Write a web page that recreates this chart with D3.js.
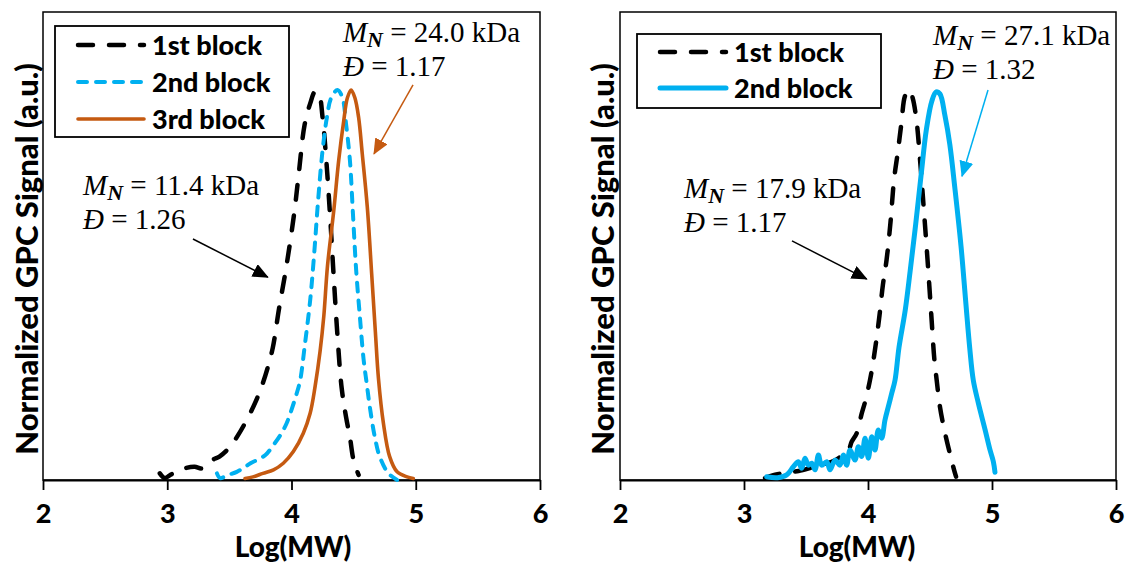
<!DOCTYPE html>
<html>
<head>
<meta charset="utf-8">
<script src="https://cdn.jsdelivr.net/npm/d3@7"></script>
<style>
  html, body { margin: 0; padding: 0; background: #fff; }
  svg { display: block; }
</style>
</head>
<body>
<svg id="chart" width="1127" height="562"></svg>
<script>
// ---- x-axis ticks (log molecular weight) ----
const logMWTicks = [2, 3, 4, 5, 6];

// ---- Panel A: three-block chain extension, [logMW, normalized signal] ----
const aBlock1 = [
  [2.94, 0.017], [2.98, 0.005], [3.03, 0.014], [3.076, 0.021], [3.14, 0.03], [3.22, 0.034],
  [3.28, 0.03], [3.36, 0.051], [3.42, 0.06], [3.505, 0.085], [3.57, 0.115], [3.64, 0.154],
  [3.706, 0.197], [3.76, 0.24], [3.81, 0.29], [3.85, 0.34], [3.90, 0.44], [3.96, 0.55],
  [4.02, 0.68], [4.06, 0.79], [4.105, 0.91], [4.15, 0.965], [4.19, 0.996], [4.22, 0.99],
  [4.25, 0.93], [4.28, 0.82], [4.31, 0.68], [4.34, 0.52], [4.37, 0.37], [4.404, 0.235],
  [4.44, 0.16], [4.47, 0.11], [4.50, 0.05], [4.54, 0.013]
];
const aBlock2 = [
  [3.40, 0.017], [3.425, 0.005], [3.49, 0.013], [3.56, 0.021], [3.61, 0.03], [3.67, 0.043],
  [3.72, 0.051], [3.79, 0.064], [3.855, 0.09], [3.91, 0.115], [3.96, 0.145], [4.0, 0.18],
  [4.04, 0.22], [4.07, 0.256], [4.105, 0.34], [4.15, 0.46], [4.18, 0.57], [4.215, 0.72],
  [4.25, 0.845], [4.285, 0.93], [4.32, 0.98], [4.37, 1.0], [4.41, 0.98], [4.44, 0.91],
  [4.47, 0.82], [4.495, 0.68], [4.52, 0.54], [4.55, 0.42], [4.58, 0.31], [4.605, 0.248],
  [4.63, 0.188], [4.67, 0.111], [4.71, 0.06], [4.78, 0.017], [4.85, 0.0]
];
const aBlock3 = [
  [3.626, 0.004], [3.69, 0.008], [3.77, 0.017], [3.855, 0.026], [3.934, 0.043], [4.015, 0.073],
  [4.095, 0.12], [4.15, 0.171], [4.19, 0.24], [4.23, 0.33], [4.26, 0.42], [4.29, 0.55],
  [4.34, 0.69], [4.38, 0.82], [4.42, 0.92], [4.45, 0.98], [4.48, 1.0], [4.51, 0.98],
  [4.54, 0.93], [4.57, 0.835], [4.61, 0.70], [4.645, 0.53], [4.675, 0.38], [4.70, 0.26],
  [4.74, 0.145], [4.79, 0.06], [4.85, 0.021], [4.93, 0.008], [4.98, 0.004]
];

// ---- Panel B: two-block chain extension ----
const bBlock1 = [
  [3.17, 0.005], [3.23, 0.012], [3.29, 0.016], [3.37, 0.02], [3.44, 0.023], [3.55, 0.032],
  [3.64, 0.04], [3.73, 0.05], [3.80, 0.065], [3.845, 0.078], [3.868, 0.098], [3.909, 0.12],
  [3.949, 0.17], [3.976, 0.2], [4.016, 0.256], [4.05, 0.32], [4.09, 0.415], [4.12, 0.50],
  [4.15, 0.565], [4.18, 0.656], [4.21, 0.77], [4.24, 0.84], [4.27, 0.916], [4.30, 0.986],
  [4.335, 1.0], [4.36, 0.98], [4.39, 0.925], [4.42, 0.82], [4.45, 0.695], [4.48, 0.565],
  [4.51, 0.425], [4.535, 0.31], [4.554, 0.256], [4.58, 0.188], [4.61, 0.137], [4.64, 0.094],
  [4.667, 0.06], [4.694, 0.026], [4.71, 0.0085]
];
const bBlock2 = [
  [3.183, 0.0085], [3.27, 0.006], [3.344, 0.013], [3.398, 0.034], [3.438, 0.047], [3.465, 0.03],
  [3.492, 0.056], [3.519, 0.038], [3.546, 0.043], [3.573, 0.026], [3.60, 0.064], [3.626, 0.038],
  [3.667, 0.047], [3.694, 0.026], [3.734, 0.051], [3.774, 0.038], [3.801, 0.064], [3.828, 0.038],
  [3.855, 0.077], [3.895, 0.051], [3.922, 0.085], [3.949, 0.06], [3.976, 0.107], [4.003, 0.056],
  [4.03, 0.111], [4.056, 0.077], [4.083, 0.128], [4.11, 0.107], [4.137, 0.154], [4.164, 0.188],
  [4.191, 0.222], [4.218, 0.256], [4.25, 0.34], [4.30, 0.435], [4.34, 0.536], [4.385, 0.657],
  [4.43, 0.787], [4.47, 0.897], [4.515, 0.972], [4.55, 0.995], [4.58, 0.99], [4.62, 0.935],
  [4.66, 0.86], [4.70, 0.75], [4.75, 0.60], [4.79, 0.45], [4.82, 0.34], [4.849, 0.256],
  [4.89, 0.197], [4.945, 0.128], [4.984, 0.077], [5.011, 0.047], [5.024, 0.02]
];

// ---- annotation values ----
const seriesNamesA = ["1st block", "2nd block", "3rd block"];
const seriesNamesB = ["1st block", "2nd block"];
const mnA = ["11.4", "24.0"];
const dispersityA = ["1.26", "1.17"];
const mnB = ["17.9", "27.1"];
const dispersityB = ["1.17", "1.32"];

// ---- styles ----
const BLACK = "#000000", BLUE = "#00b0f0", ORANGE = "#c55a11";
const SANS = "Lato, 'Open Sans', 'Liberation Sans', sans-serif";
const SERIF = "'Liberation Serif', 'Times New Roman', serif";
const DASH_BLACK = "15,16";
const DASH_BLUE = "9,9";

const svg = d3.select("#chart");
const TOP = 12, BOTTOM = 480;

// arrowhead markers
const defs = svg.append("defs");
[BLACK, BLUE, ORANGE].forEach(c => {
  defs.append("marker")
    .attr("id", "arrow" + c.slice(1))
    .attr("viewBox", "0 0 16 14")
    .attr("refX", 15).attr("refY", 7)
    .attr("markerWidth", 16).attr("markerHeight", 14)
    .attr("markerUnits", "userSpaceOnUse")
    .attr("orient", "auto")
    .append("path").attr("d", "M0,0L16,7L0,14Z").attr("fill", c);
});

function drawPanel(cfg) {
  const g = svg.append("g");
  const x = d3.scaleLinear().domain([2, 6]).range([cfg.x0, cfg.x1]);
  const y = d3.scaleLinear().domain([0, 1.2]).range([BOTTOM, TOP]);

  // plot frame
  g.append("rect")
    .attr("x", cfg.x0).attr("y", TOP)
    .attr("width", cfg.x1 - cfg.x0).attr("height", BOTTOM - TOP)
    .attr("fill", "none").attr("stroke", "#000").attr("stroke-width", 1.5);

  // x axis
  const ax = g.append("g")
    .attr("transform", `translate(0,${BOTTOM})`)
    .call(d3.axisBottom(x).tickValues(logMWTicks).tickSize(10).tickSizeOuter(0)
      .tickPadding(14).tickFormat(d3.format("d")));
  ax.select(".domain").attr("stroke-width", 2.2);
  ax.selectAll(".tick line").attr("stroke-width", 1.8);
  ax.selectAll(".tick text")
    .attr("font-family", SANS).attr("font-weight", 900).attr("font-size", 27).attr("fill", "#000");

  // axis titles
  g.append("text")
    .attr("x", cfg.titleX).attr("y", 557)
    .attr("text-anchor", "middle")
    .attr("font-family", SANS).attr("font-weight", 900).attr("font-size", 28)
    .text("Log(MW)");
  g.append("text")
    .attr("transform", `translate(${cfg.yTitleX},259) rotate(-90)`)
    .attr("text-anchor", "middle").attr("dy", "0.35em")
    .attr("font-family", SANS).attr("font-weight", 900).attr("font-size", 31)
    .text("Normalized GPC Signal (a.u.)");

  // curves
  const line = d3.line().x(d => x(d[0])).y(d => y(d[1])).curve(d3.curveCatmullRom.alpha(0.5));
  cfg.series.forEach(s => {
    g.append("path")
      .datum(s.data)
      .attr("d", line)
      .attr("fill", "none")
      .attr("stroke", s.color)
      .attr("stroke-width", s.width)
      .attr("stroke-linecap", "round")
      .attr("stroke-linejoin", "round")
      .attr("stroke-dasharray", s.dash || null);
  });

  // legend
  const L = cfg.legend;
  const lg = g.append("g").attr("transform", `translate(${L.x},${L.y})`);
  lg.append("rect").attr("width", L.w).attr("height", L.h)
    .attr("fill", "#fff").attr("stroke", "#000").attr("stroke-width", 1.8);
  cfg.series.forEach((s, i) => {
    const cy = L.first + i * L.step;
    lg.append("line")
      .attr("x1", 23).attr("x2", 89).attr("y1", cy).attr("y2", cy)
      .attr("stroke", s.color).attr("stroke-width", s.width)
      .attr("stroke-linecap", "round")
      .attr("stroke-dasharray", s.dash || null);
    lg.append("text")
      .attr("x", 97).attr("y", cy).attr("dy", "0.36em")
      .attr("font-family", SANS).attr("font-weight", 900).attr("font-size", 27)
      .text(s.name);
  });

  // Mn / dispersity annotations with arrows
  cfg.notes.forEach(n => {
    const tx = x(n.at[0]), ty = y(n.at[1]);
    const t1 = g.append("text")
      .attr("x", tx).attr("y", ty)
      .attr("font-family", SERIF).attr("font-size", 29).attr("fill", "#000");
    t1.append("tspan").attr("font-style", "italic").text("M");
    t1.append("tspan").attr("font-style", "italic").attr("font-weight", 700)
      .attr("font-size", 22).attr("dy", 5).text("N");
    t1.append("tspan").attr("dy", -5).text(` = ${n.mn} kDa`);
    const t2 = g.append("text")
      .attr("x", tx).attr("y", ty + 34)
      .attr("font-family", SERIF).attr("font-size", 29).attr("fill", "#000");
    t2.append("tspan").attr("font-style", "italic").text("Đ");
    t2.append("tspan").text(` = ${n.d}`);

    g.append("line")
      .attr("x1", x(n.from[0])).attr("y1", y(n.from[1]))
      .attr("x2", x(n.to[0])).attr("y2", y(n.to[1]))
      .attr("stroke", n.color).attr("stroke-width", 1.5)
      .attr("marker-end", `url(#arrow${n.color.slice(1)})`);
  });
}

drawPanel({
  x0: 43, x1: 540, titleX: 293, yTitleX: 27,
  series: [
    { name: seriesNamesA[0], data: aBlock1, color: BLACK, width: 4.5, dash: DASH_BLACK },
    { name: seriesNamesA[1], data: aBlock2, color: BLUE, width: 4, dash: DASH_BLUE },
    { name: seriesNamesA[2], data: aBlock3, color: ORANGE, width: 3.6 }
  ],
  legend: { x: 55, y: 26, w: 234, h: 111, first: 19, step: 37 },
  notes: [
    { mn: mnA[0], d: dispersityA[0], at: [2.322, 0.731], color: BLACK, from: [3.207, 0.618], to: [3.81, 0.52] },
    { mn: mnA[1], d: dispersityA[1], at: [4.414, 1.123], color: ORANGE, from: [4.978, 1.013], to: [4.664, 0.836] }
  ]
});

drawPanel({
  x0: 620, x1: 1116, titleX: 857, yTitleX: 603,
  series: [
    { name: seriesNamesB[0], data: bBlock1, color: BLACK, width: 4.5, dash: DASH_BLACK },
    { name: seriesNamesB[1], data: bBlock2, color: BLUE, width: 5 }
  ],
  legend: { x: 637, y: 34, w: 244, h: 74, first: 18, step: 36 },
  notes: [
    { mn: mnB[0], d: dispersityB[0], at: [2.516, 0.723], color: BLACK, from: [3.387, 0.613], to: [3.99, 0.515] },
    { mn: mnB[1], d: dispersityB[1], at: [4.524, 1.115], color: BLUE, from: [4.968, 1.0], to: [4.758, 0.779] }
  ]
});
</script>
</body>
</html>
